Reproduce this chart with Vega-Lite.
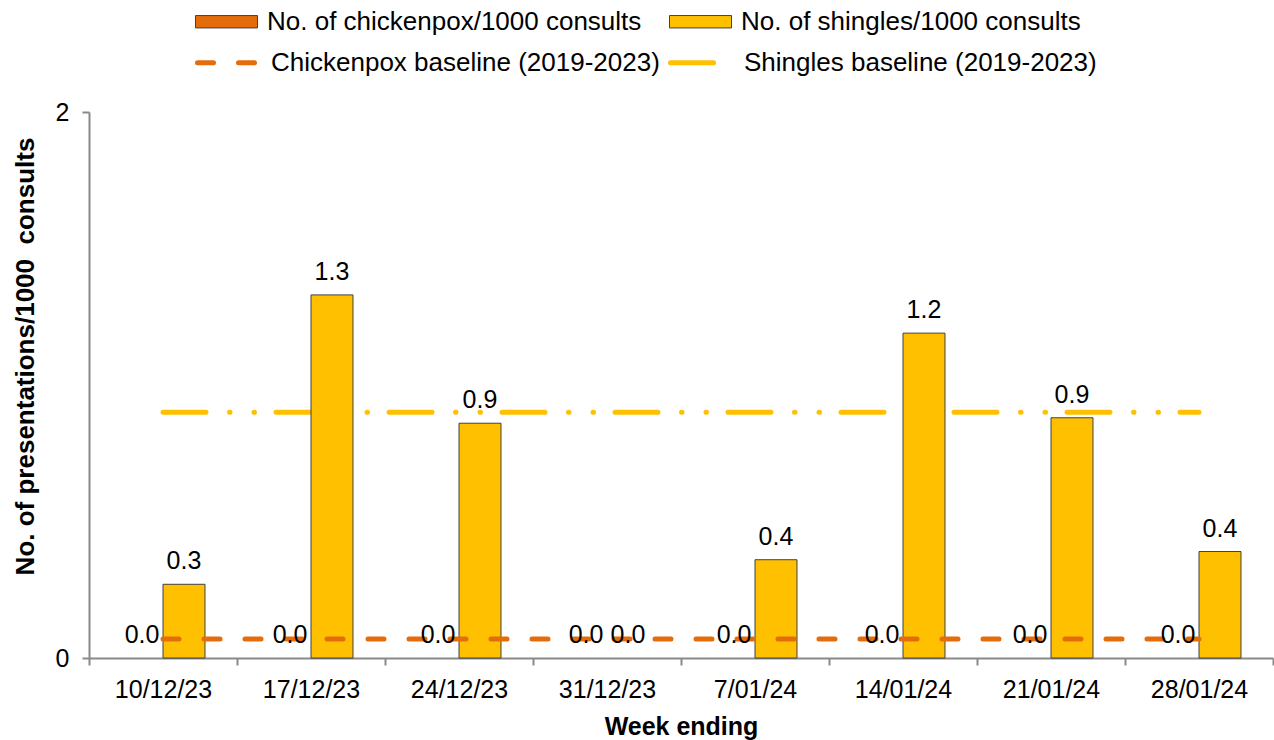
{
  "$schema": "https://vega.github.io/schema/vega-lite/v6.json",
  "width": 1184,
  "height": 546,
  "autosize": {"type": "none"},
  "padding": {"left": 89, "top": 112, "right": 1, "bottom": 82},
  "background": "white",
  "config": {
    "view": {"stroke": null},
    "font": "Liberation Sans",
    "axis": {"labelFont": "Liberation Sans", "titleFont": "Liberation Sans"},
    "legend": {"labelFont": "Liberation Sans"},
    "text": {"font": "Liberation Sans"}
  },
  "datasets": {
    "bars": [
      {"week": "10/12/23", "series": "No. of chickenpox/1000 consults", "value": 0},
      {"week": "10/12/23", "series": "No. of shingles/1000 consults", "value": 0.27},
      {"week": "17/12/23", "series": "No. of chickenpox/1000 consults", "value": 0},
      {"week": "17/12/23", "series": "No. of shingles/1000 consults", "value": 1.33},
      {"week": "24/12/23", "series": "No. of chickenpox/1000 consults", "value": 0},
      {"week": "24/12/23", "series": "No. of shingles/1000 consults", "value": 0.86},
      {"week": "31/12/23", "series": "No. of chickenpox/1000 consults", "value": 0},
      {"week": "31/12/23", "series": "No. of shingles/1000 consults", "value": 0},
      {"week": "7/01/24", "series": "No. of chickenpox/1000 consults", "value": 0},
      {"week": "7/01/24", "series": "No. of shingles/1000 consults", "value": 0.36},
      {"week": "14/01/24", "series": "No. of chickenpox/1000 consults", "value": 0},
      {"week": "14/01/24", "series": "No. of shingles/1000 consults", "value": 1.19},
      {"week": "21/01/24", "series": "No. of chickenpox/1000 consults", "value": 0},
      {"week": "21/01/24", "series": "No. of shingles/1000 consults", "value": 0.88},
      {"week": "28/01/24", "series": "No. of chickenpox/1000 consults", "value": 0},
      {"week": "28/01/24", "series": "No. of shingles/1000 consults", "value": 0.39}
    ],
    "baselines": [
      {"week": "10/12/23", "baseline": "Chickenpox baseline (2019-2023)", "value": 0.07},
      {"week": "17/12/23", "baseline": "Chickenpox baseline (2019-2023)", "value": 0.07},
      {"week": "24/12/23", "baseline": "Chickenpox baseline (2019-2023)", "value": 0.07},
      {"week": "31/12/23", "baseline": "Chickenpox baseline (2019-2023)", "value": 0.07},
      {"week": "7/01/24", "baseline": "Chickenpox baseline (2019-2023)", "value": 0.07},
      {"week": "14/01/24", "baseline": "Chickenpox baseline (2019-2023)", "value": 0.07},
      {"week": "21/01/24", "baseline": "Chickenpox baseline (2019-2023)", "value": 0.07},
      {"week": "28/01/24", "baseline": "Chickenpox baseline (2019-2023)", "value": 0.07},
      {"week": "10/12/23", "baseline": "Shingles baseline (2019-2023)", "value": 0.9},
      {"week": "17/12/23", "baseline": "Shingles baseline (2019-2023)", "value": 0.9},
      {"week": "24/12/23", "baseline": "Shingles baseline (2019-2023)", "value": 0.9},
      {"week": "31/12/23", "baseline": "Shingles baseline (2019-2023)", "value": 0.9},
      {"week": "7/01/24", "baseline": "Shingles baseline (2019-2023)", "value": 0.9},
      {"week": "14/01/24", "baseline": "Shingles baseline (2019-2023)", "value": 0.9},
      {"week": "21/01/24", "baseline": "Shingles baseline (2019-2023)", "value": 0.9},
      {"week": "28/01/24", "baseline": "Shingles baseline (2019-2023)", "value": 0.9}
    ]
  },
  "encoding": {
    "x": {
      "field": "week",
      "type": "nominal",
      "title": "Week ending",
      "scale": {
        "domain": ["10/12/23", "17/12/23", "24/12/23", "31/12/23", "7/01/24", "14/01/24", "21/01/24", "28/01/24"],
        "paddingInner": 0,
        "paddingOuter": 0
      },
      "axis": {
        "labelAngle": 0,
        "labelFontSize": 25,
        "labelColor": "#000000",
        "labelPadding": 12,
        "tickBand": "extent",
        "tickSize": 7,
        "tickColor": "#898989",
        "tickWidth": 2,
        "domainColor": "#898989",
        "domainWidth": 2,
        "grid": false,
        "titleFontSize": 25,
        "titleFontWeight": "bold",
        "titleColor": "#000000",
        "titlePadding": 12
      }
    },
    "y": {
      "field": "value",
      "type": "quantitative",
      "title": "No. of presentations/1000\u00a0 consults",
      "scale": {"domain": [0, 2], "nice": false},
      "axis": {
        "values": [0, 1, 2],
        "format": "d",
        "labelFontSize": 25,
        "labelColor": "#000000",
        "labelPadding": 13,
        "tickSize": 7,
        "tickColor": "#898989",
        "tickWidth": 2,
        "domainColor": "#898989",
        "domainWidth": 2,
        "grid": false,
        "titleFontSize": 26,
        "titleFontWeight": "bold",
        "titleColor": "#000000",
        "titlePadding": 17,
        "titleY": 244
      }
    }
  },
  "layer": [
    {
      "data": {"name": "baselines"},
      "transform": [{"filter": "datum.baseline == 'Shingles baseline (2019-2023)'"}],
      "mark": {"type": "line", "strokeWidth": 5, "strokeCap": "round"},
      "encoding": {
        "stroke": {
          "field": "baseline",
          "type": "nominal",
          "scale": {
            "domain": ["Chickenpox baseline (2019-2023)", "Shingles baseline (2019-2023)"],
            "range": ["#E46C0A", "#FFC000"]
          },
          "legend": {
            "title": null,
            "orient": "none",
            "legendX": 106,
            "legendY": -83,
            "direction": "horizontal",
            "columns": 2,
            "columnPadding": 0,
            "symbolType": "stroke",
            "symbolSize": 3844,
            "symbolStrokeWidth": 5,
            "labelFontSize": 26,
            "labelColor": "#000000",
            "labelOffset": 9,
            "labelLimit": 800,
            "encode": {"symbols": {"update": {"strokeCap": {"value": "round"}}}}
          }
        },
        "strokeDash": {
          "field": "baseline",
          "type": "nominal",
          "scale": {
            "domain": ["Chickenpox baseline (2019-2023)", "Shingles baseline (2019-2023)"],
            "range": [[16, 25], [43, 23.5, 0.5, 24, 0.5, 21.5]]
          },
          "legend": {
            "title": null,
            "orient": "none",
            "legendX": 106,
            "legendY": -83,
            "direction": "horizontal",
            "columns": 2,
            "columnPadding": 0,
            "symbolType": "stroke",
            "symbolSize": 3844,
            "symbolStrokeWidth": 5,
            "labelFontSize": 26,
            "labelColor": "#000000",
            "labelOffset": 9,
            "labelLimit": 800,
            "encode": {"symbols": {"update": {"strokeCap": {"value": "round"}}}}
          }
        }
      }
    },
    {
      "data": {"name": "bars"},
      "transform": [{"filter": "datum.value > 0"}],
      "mark": {"type": "bar", "stroke": "#404040", "strokeWidth": 1},
      "encoding": {
        "xOffset": {
          "field": "series",
          "type": "nominal",
          "scale": {"domain": ["No. of chickenpox/1000 consults", "No. of shingles/1000 consults"], "paddingInner": 0, "paddingOuter": 0.762}
        },
        "fill": {
          "field": "series",
          "type": "nominal",
          "scale": {
            "domain": ["No. of chickenpox/1000 consults", "No. of shingles/1000 consults"],
            "range": ["#E46C0A", "#FFC000"]
          },
          "legend": {
            "title": null,
            "orient": "none",
            "legendX": 106,
            "legendY": -122,
            "direction": "horizontal",
            "columns": 2,
            "columnPadding": 25,
            "symbolType": "M-1,-0.2H1V0.2H-1Z",
            "symbolSize": 3844,
            "symbolStrokeColor": "#404040",
            "symbolStrokeWidth": 1,
            "symbolOpacity": 1,
            "labelFontSize": 26,
            "labelColor": "#000000",
            "labelOffset": 9,
            "labelLimit": 800
          }
        }
      }
    },
    {
      "data": {"name": "baselines"},
      "transform": [{"filter": "datum.baseline == 'Chickenpox baseline (2019-2023)'"}],
      "mark": {"type": "line", "strokeWidth": 5, "strokeCap": "round"},
      "encoding": {
        "stroke": {"field": "baseline", "type": "nominal"},
        "strokeDash": {"field": "baseline", "type": "nominal"}
      }
    },
    {
      "data": {"name": "bars"},
      "mark": {"type": "text", "fontSize": 25, "dy": -15, "baseline": "alphabetic", "align": "center", "color": "#000000"},
      "encoding": {
        "xOffset": {
          "field": "series",
          "type": "nominal",
          "scale": {"domain": ["No. of chickenpox/1000 consults", "No. of shingles/1000 consults"], "paddingInner": 0, "paddingOuter": 0.762}
        },
        "text": {"field": "value", "type": "quantitative", "format": ".1f"}
      }
    }
  ]
}
